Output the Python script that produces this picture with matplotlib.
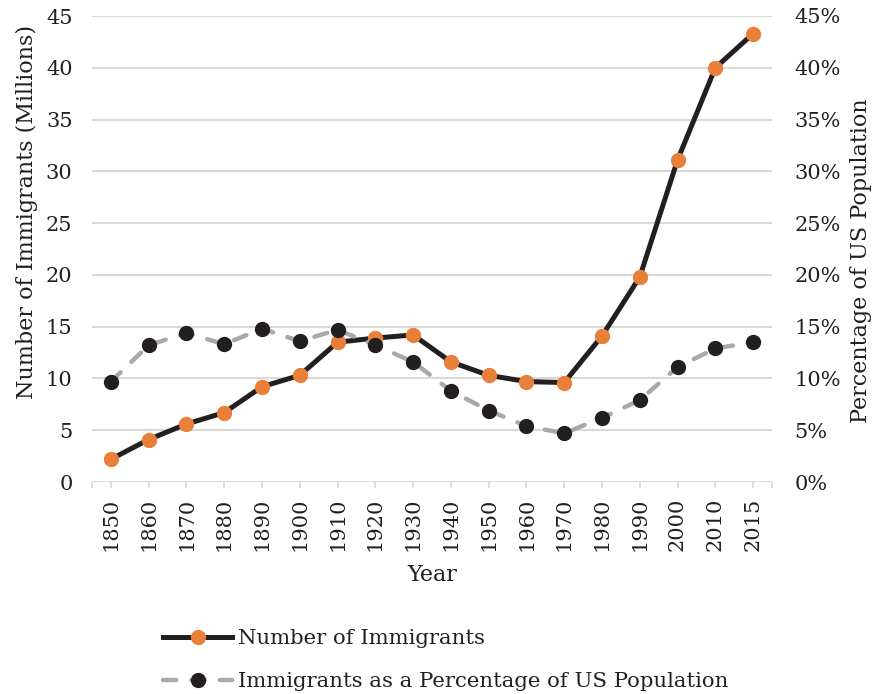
import matplotlib.pyplot as plt
from matplotlib.ticker import FuncFormatter, FixedLocator

years = ['1850', '1860', '1870', '1880', '1890', '1900', '1910', '1920', '1930',
         '1940', '1950', '1960', '1970', '1980', '1990', '2000', '2010', '2015']
immigrants = [2.2, 4.1, 5.6, 6.7, 9.2, 10.3, 13.5, 13.9, 14.2,
              11.6, 10.3, 9.7, 9.6, 14.1, 19.8, 31.1, 40.0, 43.3]
pct_pop = [9.7, 13.2, 14.4, 13.3, 14.8, 13.6, 14.7, 13.2, 11.6,
           8.8, 6.9, 5.4, 4.7, 6.2, 7.9, 11.1, 12.9, 13.5]

plt.rcParams['font.family'] = ['DejaVu Serif']
text_color = '#231f20'
orange = '#e8803a'
dark = '#231f20'
gray = '#a7a9ac'
grid = '#d9d9d9'

fig = plt.figure(figsize=(8.74, 6.94), dpi=100)
ax = fig.add_axes([92 / 874, 1 - 482 / 694, (772 - 92) / 874, (482 - 16) / 694])
ax2 = ax.twinx()

x = list(range(len(years)))

l1, = ax.plot(x, immigrants, color=dark, lw=3.6, marker='o', markersize=10,
              markerfacecolor=orange, markeredgecolor=orange, zorder=3)
l2, = ax2.plot(x, [p / 100 for p in pct_pop], color=gray, lw=3.2, marker='o',
               markersize=10, markerfacecolor=dark, markeredgecolor=dark,
               dashes=[3.0, 3.4], dash_capstyle='round', zorder=3)

ax.set_xlim(-0.5, len(years) - 0.5)
ax.set_ylim(0, 45)
ax2.set_ylim(0, 0.45)
ax.set_yticks(range(0, 46, 5))
ax2.set_yticks([i / 100 for i in range(0, 46, 5)])
ax2.yaxis.set_major_formatter(FuncFormatter(lambda v, p: f'{v * 100:.0f}%'))

ax.set_xticks(x)
ax.set_xticklabels(years, rotation=90)
ax.xaxis.set_minor_locator(FixedLocator([-0.5, len(years) - 0.5]))

ax.grid(axis='y', color=grid, lw=1.5, zorder=0)
ax.set_axisbelow(True)
for a in (ax, ax2):
    for s in a.spines.values():
        s.set_visible(False)
    a.tick_params(axis='y', length=0, labelsize=15, colors=text_color)
ax.tick_params(axis='y', pad=14)
ax2.tick_params(axis='y', pad=16)
ax.tick_params(axis='x', which='both', length=4.5, width=1.2, color=grid,
               labelsize=15, labelcolor=text_color, pad=7)
ax2.tick_params(axis='x', length=0)

ax.set_ylabel('Number of Immigrants (Millions)', fontsize=16, color=text_color)
ax2.set_ylabel('Percentage of US Population', fontsize=16, color=text_color, rotation=90)
ax.yaxis.set_label_coords(-0.079, 0.579)
ax2.yaxis.set_label_coords(1.114, 0.474)
ax.set_xlabel('Year', fontsize=16, color=text_color, labelpad=9)

fig.legend([l1, l2], ['Number of Immigrants', 'Immigrants as a Percentage of US Population'],
           loc='lower left', bbox_to_anchor=(163 / 874, 3 / 694), frameon=False,
           borderaxespad=0, borderpad=0,
           fontsize=15.3, handlelength=3.25, handletextpad=0.28, labelspacing=1.13,
           labelcolor=text_color)

fig.savefig('out.png', dpi=100)
